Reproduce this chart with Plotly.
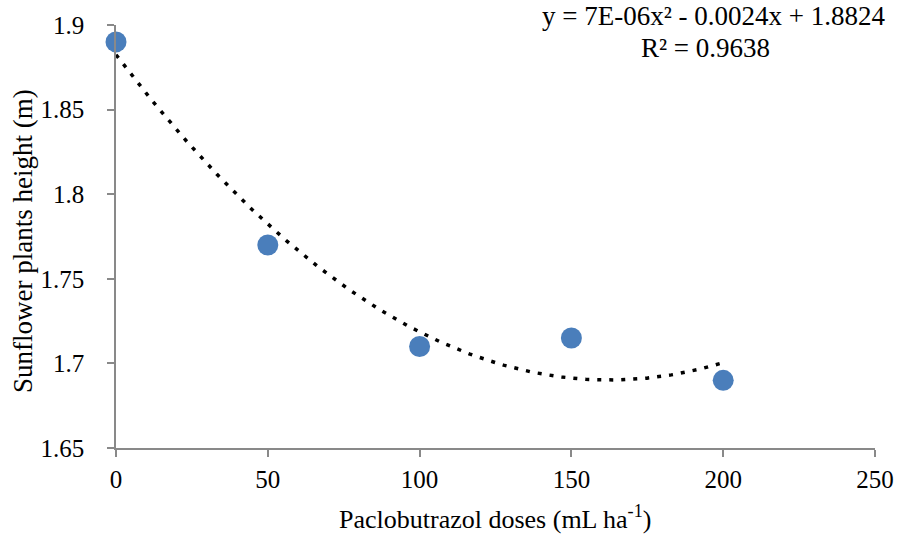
import numpy as np
import plotly.graph_objects as go

doses = [0, 50, 100, 150, 200]
heights = [1.89, 1.77, 1.71, 1.715, 1.69]
x_ticks = [0, 50, 100, 150, 200, 250]
y_ticks = [1.65, 1.7, 1.75, 1.8, 1.85, 1.9]
y_tick_labels = ["1.65", "1.7", "1.75", "1.8", "1.85", "1.9"]
x_title = "Paclobutrazol doses (mL ha<sup>-1</sup>)"
y_title = "Sunflower plants height (m)"
eq_line1 = "y = 7E-06x² - 0.0024x + 1.8824"
eq_line2 = "R² = 0.9638"

# polynomial trendline (order 2) fitted to the data
coef = np.polyfit(doses, heights, 2)
xt = np.linspace(min(doses), max(doses), 200)
yt = np.polyval(coef, xt)

FONT = "Liberation Serif, Times New Roman, serif"

# body margin removed via post_script, figure fills the window
W, H = 906, 535
ML, MR, MT, MB = 116, 23, 25, 87
pw = W - ML - MR
ph = H - MT - MB


def px_x(wx):
    return (wx - ML) / pw


def px_y(wy):
    return 1 - (wy - MT) / ph


fig = go.Figure()
fig.add_trace(go.Scatter(
    x=xt, y=yt, mode="lines",
    line=dict(color="black", width=3.5, dash="4px,8px"),
    hoverinfo="skip", showlegend=False, cliponaxis=False,
))
fig.add_trace(go.Scatter(
    x=doses, y=heights, mode="markers",
    marker=dict(size=21, color="#4A7EBB", line=dict(width=0)),
    showlegend=False, cliponaxis=False,
))

axis_common = dict(
    showline=True, linecolor="#898989", linewidth=1.5,
    ticks="outside", ticklen=7, tickcolor="#898989", tickwidth=1.5,
    showgrid=False, zeroline=False,
    tickfont=dict(family=FONT, size=25, color="black"),
)

XFONT = dict(family=FONT, size=26, color="black")
YFONT = dict(family=FONT, size=27, color="black")
EFONT = dict(family=FONT, size=27, color="black")

fig.update_layout(
    width=W, height=H,
    margin=dict(l=ML, r=MR, t=MT, b=MB, pad=0),
    paper_bgcolor="white", plot_bgcolor="white",
    font=dict(family=FONT, color="black"),
    xaxis=dict(range=[0, 250], tickvals=x_ticks, ticklabelstandoff=1,
               **axis_common),
    yaxis=dict(range=[1.65, 1.9], tickvals=y_ticks, ticktext=y_tick_labels,
               ticklabelstandoff=18, **axis_common),
    annotations=[
        dict(x=px_x(499), y=px_y(517), xref="paper", yref="paper",
             text=x_title, showarrow=False, font=XFONT,
             xanchor="center", yanchor="middle"),
        dict(x=px_x(22), y=px_y(241), xref="paper", yref="paper",
             text=y_title, showarrow=False, font=YFONT, textangle=-90,
             xanchor="center", yanchor="middle"),
        dict(x=px_x(720), y=px_y(32), xref="paper", yref="paper",
             text=eq_line1, showarrow=False, font=EFONT, borderpad=0,
             xanchor="center", yanchor="bottom"),
        dict(x=px_x(712), y=px_y(32), xref="paper", yref="paper",
             text=eq_line2, showarrow=False, font=EFONT, borderpad=0,
             xanchor="center", yanchor="top"),
    ],
)

fig.write_html("out.html",
               config={"displayModeBar": False},
               post_script="document.body.style.margin='0';")
